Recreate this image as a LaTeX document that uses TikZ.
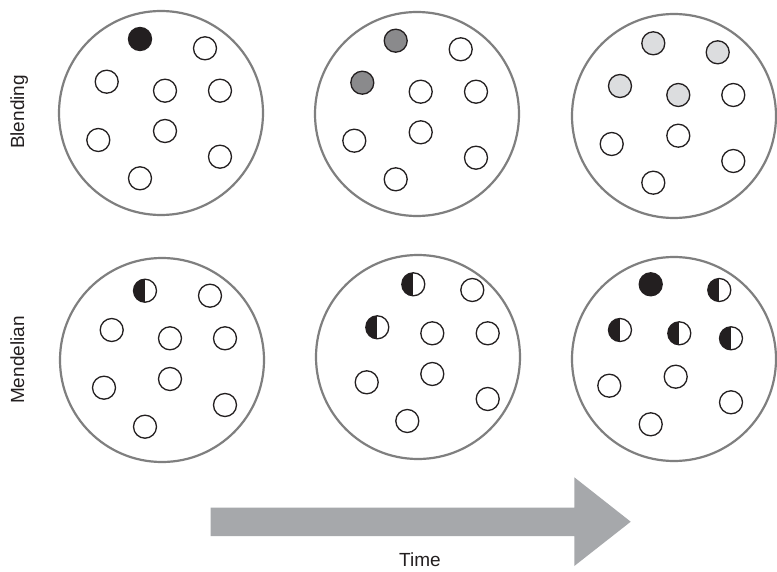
\documentclass[tikz,border=0pt]{standalone}
\usepackage{fontspec}
\setmainfont{Liberation Sans}
\definecolor{ringgray}{HTML}{7F7F7F}
\definecolor{dotblack}{HTML}{231F20}
\definecolor{midgray}{HTML}{8A8A8C}
\definecolor{lightgray}{HTML}{DCDDDF}
\definecolor{arrowgray}{HTML}{A6A8AB}
\tikzset{
  bigc/.style={circle, draw=ringgray, line width=2.2pt, minimum size=204pt, inner sep=0pt},
  dotc/.style={circle, draw=dotblack, line width=1.3pt, minimum size=23pt, inner sep=0pt, fill=white},
  blackc/.style={dotc, fill=dotblack},
  grayc/.style={dotc, fill=midgray},
  lgrayc/.style={dotc, fill=lightgray},
  halfc/.style={dotc, path picture={\fill[dotblack] (path picture bounding box.north) rectangle (path picture bounding box.south west);}},
  lab/.style={font=\fontsize{19}{22}\selectfont, text=dotblack, inner sep=0pt}
}
\begin{document}
\begin{tikzpicture}[x=1pt,y=-1pt]
\useasboundingbox (0,0) rectangle (777,572);
\fill[white] (0,0) rectangle (777,572);
% big circles
\node[bigc] (b11) at (161,113) {};
\node[bigc] (b12) at (417,114) {};
\node[bigc] (b13) at (674,116) {};
\node[bigc] (b21) at (162,360) {};
\node[bigc] (b22) at (418,357) {};
\node[bigc] (b23) at (674,359) {};
% row 1 col 1
\node[blackc] (a1) at (140,39) {};
\node[dotc] (a2) at (205,48.3) {};
\node[dotc] (a3) at (106.7,81.7) {};
\node[dotc] (a4) at (165,90.7) {};
\node[dotc] (a5) at (220,90.7) {};
\node[dotc] (a6) at (98.3,140) {};
\node[dotc] (a7) at (165,131) {};
\node[dotc] (a8) at (220,156.7) {};
\node[dotc] (a9) at (140,178.3) {};
% row 1 col 2
\node[grayc] (c1) at (395.7,40.7) {};
\node[dotc] (c2) at (460.7,49.3) {};
\node[grayc] (c3) at (362.3,82.7) {};
\node[dotc] (c4) at (420.7,91.7) {};
\node[dotc] (c5) at (476,91.7) {};
\node[dotc] (c6) at (354.3,140.7) {};
\node[dotc] (c7) at (420.7,132.3) {};
\node[dotc] (c8) at (476,157.7) {};
\node[dotc] (c9) at (395.7,179.3) {};
% row 1 col 3
\node[lgrayc] (e1) at (653.3,43.3) {};
\node[lgrayc] (e2) at (717.7,52.3) {};
\node[lgrayc] (e3) at (620,86) {};
\node[lgrayc] (e4) at (678.3,95) {};
\node[dotc] (e5) at (733.3,95) {};
\node[dotc] (e6) at (611.7,144) {};
\node[dotc] (e7) at (678.3,135.7) {};
\node[dotc] (e8) at (733.3,161) {};
\node[dotc] (e9) at (653.3,182.7) {};
% row 2 col 1
\node[halfc] (m1) at (145,290.7) {};
\node[dotc] (m2) at (210,295.7) {};
\node[dotc] (m3) at (111.7,330) {};
\node[dotc] (m4) at (170,338.3) {};
\node[dotc] (m5) at (225,338.3) {};
\node[dotc] (m6) at (104,387.7) {};
\node[dotc] (m7) at (170,379) {};
\node[dotc] (m8) at (225,405) {};
\node[dotc] (m9) at (145,426.7) {};
% row 2 col 2
\node[halfc] (n1) at (413.3,284.3) {};
\node[dotc] (n2) at (472.3,290) {};
\node[halfc] (n3) at (377.3,327.3) {};
\node[dotc] (n4) at (432.3,333.3) {};
\node[dotc] (n5) at (487.7,333.3) {};
\node[dotc] (n6) at (366.7,382.3) {};
\node[dotc] (n7) at (432.3,374) {};
\node[dotc] (n8) at (487.7,399) {};
\node[dotc] (n9) at (407.3,421) {};
% row 2 col 3
\node[blackc] (p1) at (650.7,284.3) {};
\node[halfc] (p2) at (719.3,290) {};
\node[halfc] (p3) at (620,330) {};
\node[halfc] (p4) at (679.3,333.3) {};
\node[halfc] (p5) at (731,338.3) {};
\node[dotc] (p6) at (609.3,385.7) {};
\node[dotc] (p7) at (675.7,376.7) {};
\node[dotc] (p8) at (731,402.3) {};
\node[dotc] (p9) at (650.7,424.3) {};
% labels
\node[lab, rotate=90, anchor=base] (blend) at (24,112) {Blending};
\node[lab, rotate=90, anchor=base] (mend) at (24,360) {Mendelian};
% time arrow
\fill[arrowgray] (210.7,507.7) -- (574.3,507.7) -- (574.3,477.3) -- (630.7,521.7) -- (574.3,566) -- (574.3,536) -- (210.7,536) -- cycle;
\node[lab] (time) at (420,560) {Time};
\end{tikzpicture}
\end{document}
